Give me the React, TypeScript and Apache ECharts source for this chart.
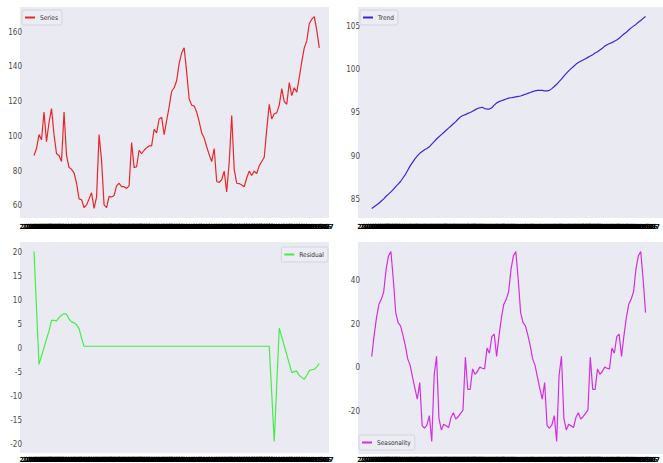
import React, { useEffect, useRef } from "react";
import * as echarts from "echarts";

const seriesValues = [
  89, 93, 101, 98, 114, 97, 108, 116, 101, 90, 89, 85.5, 114, 89, 82, 81, 79, 73, 64, 63.5,
  59, 60.5, 64, 67.5, 58.5, 65, 101, 86, 60.5, 59, 65.5, 65, 66, 71.5, 73, 71, 71, 70, 71.5, 96.5,
  82, 82.5, 92, 90, 92, 93.5, 94.5, 94.5, 104, 102, 110, 111, 101, 109, 117, 126, 128, 132, 142, 148,
  151, 137, 121.5, 118, 117.5, 114, 108.5, 102, 99, 94, 89.5, 85.5, 93, 74, 73.5, 75, 80, 68, 85, 112,
  81, 73, 72.8, 72, 71, 76, 80, 77.5, 80, 78.5, 83, 85.5, 88, 104, 118.5, 110, 113, 113.5, 118, 127.5,
  120, 118.5, 131, 123.5, 128, 125.5, 134, 143, 151, 155, 165, 167.5, 169, 161, 151,
];

const trendValues = [
  84.0, 84.2, 84.4, 84.6, 84.85, 85.1, 85.4, 85.65, 85.9, 86.2, 86.5, 86.8, 87.1, 87.5, 87.9, 88.4, 88.9, 89.3, 89.7, 90.05,
  90.35, 90.55, 90.75, 90.9, 91.1, 91.4, 91.7, 92.0, 92.25, 92.5, 92.75, 93.0, 93.25, 93.5, 93.75, 94.0, 94.3, 94.55, 94.7, 94.8,
  94.95, 95.05, 95.2, 95.35, 95.5, 95.6, 95.65, 95.5, 95.45, 95.45, 95.6, 95.9, 96.15, 96.3, 96.4, 96.5, 96.6, 96.7, 96.75, 96.8,
  96.85, 96.9, 96.95, 97.05, 97.15, 97.25, 97.35, 97.45, 97.55, 97.6, 97.6, 97.6, 97.55, 97.55, 97.6, 97.8, 98.05, 98.3, 98.6, 98.9,
  99.25, 99.55, 99.85, 100.1, 100.35, 100.6, 100.8, 100.95, 101.1, 101.25, 101.4, 101.55, 101.7, 101.9, 102.05, 102.25, 102.45, 102.7, 102.85, 103.0,
  103.1, 103.25, 103.4, 103.6, 103.85, 104.1, 104.3, 104.55, 104.8, 105.0, 105.2, 105.45, 105.65, 105.9, 106.1,
];

const residualValues = [
  20.3, 8.5, -3.3, -1.5, 0.2, 2.0, 3.7, 5.9, 5.9, 5.8, 6.5, 7.0, 7.3, 7.2, 6.2, 5.6, 5.4, 5.0, 4.2, 2.2,
  0.5, 0.5, 0.5, 0.5, 0.5, 0.5, 0.5, 0.5, 0.5, 0.5, 0.5, 0.5, 0.5, 0.5, 0.5, 0.5, 0.5, 0.5, 0.5, 0.5,
  0.5, 0.5, 0.5, 0.5, 0.5, 0.5, 0.5, 0.5, 0.5, 0.5, 0.5, 0.5, 0.5, 0.5, 0.5, 0.5, 0.5, 0.5, 0.5, 0.5,
  0.5, 0.5, 0.5, 0.5, 0.5, 0.5, 0.5, 0.5, 0.5, 0.5, 0.5, 0.5, 0.5, 0.5, 0.5, 0.5, 0.5, 0.5, 0.5, 0.5,
  0.5, 0.5, 0.5, 0.5, 0.5, 0.5, 0.5, 0.5, 0.5, 0.5, 0.5, 0.5, 0.5, 0.5, 0.5, -9.5, -19.4, -7.5, 4.3, 2.4,
  0.6, -1.3, -3.1, -5.0, -4.8, -4.7, -5.6, -6.0, -6.4, -5.6, -4.6, -4.4, -4.3, -3.8, -3.1,
];

const seasonalValues = [
  5.2, 14.7, 23.1, 29.2, 31.5, 35, 45.4, 51.5, 53.5, 40.6, 25.4, 20.8, 19.3, 15, 10.2, 4.1, 1.1, -4.3, -9.6, -14.4,
  -6.8, -26.6, -27.8, -26.3, -22, -33.9, -3.5, 5.3, -23.3, -28.6, -26, -26.7, -27.5, -22.9, -20.7, -23.6, -22.5, -21, -19.5, 4.9,
  -9.9, -9.9, -0.5, -3, -1.7, 0.3, -0.2, -0.5, 9.1, 6.7, 14.3, 15.5,
  5.2, 14.7, 23.1, 29.2, 31.5, 35, 45.4, 51.5, 53.5, 40.6, 25.4, 20.8, 19.3, 15, 10.2, 4.1, 1.1, -4.3, -9.6, -14.4,
  -6.8, -26.6, -27.8, -26.3, -22, -33.9, -3.5, 5.3, -23.3, -28.6, -26, -26.7, -27.5, -22.9, -20.7, -23.6, -22.5, -21, -19.5, 4.9,
  -9.9, -9.9, -0.5, -3, -1.7, 0.3, -0.2, -0.5, 9.1, 6.7, 14.3, 15.5,
  5.2, 14.7, 23.1, 29.2, 31.5, 35, 45.4, 51.5, 53.5, 40.6, 25.4,
];

const dateLabels = seriesValues.map((_, i) => {
  const y = 2006 + Math.floor(i / 12);
  const m = (i % 12) + 1;
  return `${y}-${m < 10 ? "0" + m : m}`;
});

const seriesTicks = [60, 80, 100, 120, 140, 160];
const trendTicks = [85, 90, 95, 100, 105];
const residualTicks = [-20, -15, -10, -5, 0, 5, 10, 15, 20];
const seasonalTicks = [-20, 0, 20, 40];

const FONT = "'Liberation Sans Narrow', 'DejaVu Sans Condensed', 'Liberation Sans', sans-serif";
const W = 663;
const H = 463;

const panels = [
  { name: "Series", data: seriesValues, ticks: seriesTicks, color: "#e8262b",
    bg: { x: 20, y: 7, w: 309, h: 211 }, dataLeft: 34, dataRight: 319.3, legend: { left: 22, top: 10 } },
  { name: "Trend", data: trendValues, ticks: trendTicks, color: "#3a26e0",
    bg: { x: 358, y: 7, w: 305, h: 211 }, dataLeft: 371.7, dataRight: 657.3, legend: { left: 360, top: 10 } },
  { name: "Residual", data: residualValues, ticks: residualTicks, color: "#44ee44",
    bg: { x: 20, y: 242, w: 309, h: 211 }, dataLeft: 34, dataRight: 319.3, legend: { right: W - 328, top: 247 } },
  { name: "Seasonality", data: seasonalValues, ticks: seasonalTicks, color: "#d42ee2",
    bg: { x: 358, y: 242, w: 305, h: 212 }, dataLeft: 371.7, dataRight: 657.3, legend: { left: 359, top: 435 } },
];

export default function App() {
  const ref = useRef<HTMLDivElement>(null);
  useEffect(() => {
    document.body.style.margin = "0";
    if (!ref.current) return;
    const chart = echarts.init(ref.current, null, { renderer: "svg" });
    const option: any = {
      animation: false,
      backgroundColor: "#ffffff",
      textStyle: { fontFamily: FONT },
      graphic: panels.map((p) => ({
        type: "rect",
        silent: true,
        z: -10,
        shape: { x: p.bg.x, y: p.bg.y, width: p.bg.w, height: p.bg.h },
        style: { fill: "#eaeaf2" },
      })),
      grid: panels.map((p) => ({
        left: p.dataLeft,
        right: W - p.dataRight,
        top: p.bg.y,
        height: p.bg.h,
        containLabel: false,
      })),
      xAxis: panels.map((p, i) => ({
        type: "category",
        gridIndex: i,
        data: dateLabels,
        boundaryGap: false,
        axisLine: { show: false },
        axisTick: { show: false },
        splitLine: { show: false },
        axisLabel: {
          interval: 0,
          hideOverlap: false,
          fontSize: 7,
          fontWeight: "bold",
          color: "#000",
          margin: 5,
          fontFamily: FONT,
        },
      })),
      yAxis: panels.map((p, i) => ({
        type: "value",
        gridIndex: i,
        min: (v: any) => v.min - 0.05 * (v.max - v.min),
        max: (v: any) => v.max + 0.05 * (v.max - v.min),
        axisLine: { show: false },
        axisTick: { show: false },
        splitLine: { show: false },
        axisLabel: {
          customValues: p.ticks,
          fontSize: 8,
          color: "#4a4a4a",
          margin: p.dataLeft - p.bg.x - 2,
          fontFamily: FONT,
        },
      })),
      legend: panels.map((p) => ({
        data: [p.name],
        ...p.legend,
        orient: "vertical",
        icon: "rect",
        itemWidth: 10,
        itemHeight: 2,
        itemGap: 3,
        padding: [4, 4, 4, 3],
        backgroundColor: "rgba(236,236,244,0.9)",
        borderColor: "#d4d4dc",
        borderWidth: 1,
        borderRadius: 2,
        textStyle: { fontSize: 6.5, color: "#333", fontFamily: FONT },
      })),
      series: panels.map((p, i) => ({
        name: p.name,
        type: "line",
        xAxisIndex: i,
        yAxisIndex: i,
        data: p.data,
        showSymbol: false,
        symbol: "none",
        color: p.color,
        lineStyle: { width: 1.2, color: p.color },
      })),
    };
    chart.setOption(option);
    return () => chart.dispose();
  }, []);
  return <div ref={ref} style={{ width: W, height: H }} />;
}
